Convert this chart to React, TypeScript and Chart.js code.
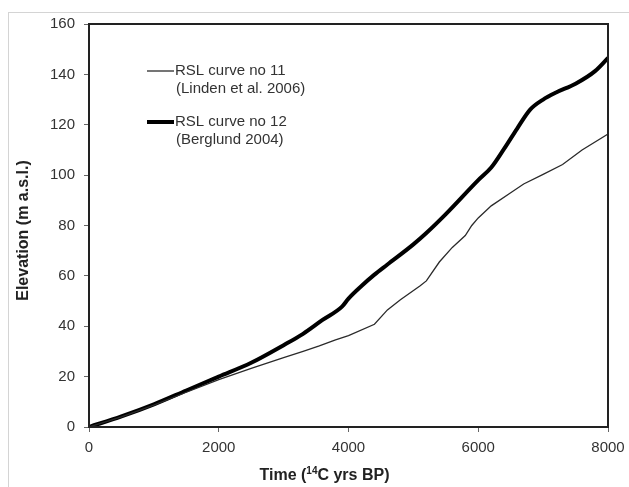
import React, { useEffect, useRef } from "react";
import { Chart, registerables } from "chart.js";

Chart.register(...registerables);

// RSL curve no 11 (Linden et al. 2006)
const lindenYears = [0, 500, 1000, 1500, 2000, 2500, 3000, 3300, 3550, 3800, 4000, 4400, 4600, 4800, 5100, 5200, 5400, 5600, 5800, 5900, 6000, 6200, 6500, 6700, 7000, 7300, 7600, 8000];
const lindenElev = [0, 4, 8.7, 13.8, 18.8, 23.3, 27.5, 30, 32.2, 34.6, 36.3, 40.8, 46.5, 50.5, 56, 58, 65.5, 71.3, 76, 80, 83, 87.8, 93, 96.5, 100.3, 104.2, 110, 116.3];

// RSL curve no 12 (Berglund 2004)
const berglundYears = [0, 500, 1000, 1500, 2000, 2500, 3000, 3300, 3600, 3900, 4000, 4200, 4400, 4600, 5000, 5200, 5500, 6000, 6200, 6400, 6600, 6800, 7000, 7200, 7500, 7800, 8000];
const berglundElev = [0, 4.2, 9, 14.5, 20, 25.5, 32.5, 37, 42.5, 47.8, 51, 56, 60.5, 64.5, 72.5, 77, 84.5, 98, 103, 110.5, 118.5, 126, 130, 132.8, 136.3, 141.3, 146.5];

const seriesNames = ["RSL curve no 11", "RSL curve no 12"];
const seriesRefs = ["(Linden et al. 2006)", "(Berglund 2004)"];

const xTicks = [0, 2000, 4000, 6000, 8000];
const yTicks = [0, 20, 40, 60, 80, 100, 120, 140, 160];

const yTitle = "Elevation (m a.s.l.)";

const FONT = "'Liberation Sans', Arial, sans-serif";

export default function App() {
  const ref = useRef<HTMLCanvasElement | null>(null);

  useEffect(() => {
    if (!ref.current) return;

    const framePlugin = {
      id: "frameAndLegend",
      afterDraw(chart: any) {
        const { ctx, chartArea } = chart;
        const { left, top, right, bottom } = chartArea;
        ctx.save();
        // frame
        ctx.strokeStyle = "#222";
        ctx.lineWidth = 2;
        ctx.strokeRect(left, top, right - left, bottom - top);

        // legend
        ctx.font = `15px ${FONT}`;
        ctx.fillStyle = "#333";
        ctx.textBaseline = "middle";
        ctx.textAlign = "left";
        const rows = [47, 98];
        chart.data.datasets.forEach((ds: any, i: number) => {
          const y = top + rows[i];
          ctx.beginPath();
          ctx.strokeStyle = ds.borderColor;
          ctx.lineWidth = ds.borderWidth;
          ctx.moveTo(left + 58, y);
          ctx.lineTo(left + 85, y);
          ctx.stroke();
          ctx.fillText(seriesNames[i], left + 86, y);
          ctx.fillText(seriesRefs[i], left + 87, y + 18);
        });

        // y axis title
        ctx.save();
        ctx.translate(15, (top + bottom) / 2 + 5);
        ctx.rotate(-Math.PI / 2);
        ctx.font = `bold 16px ${FONT}`;
        ctx.fillStyle = "#222";
        ctx.textAlign = "center";
        ctx.textBaseline = "middle";
        ctx.fillText(yTitle, 0, 0);
        ctx.restore();

        // x axis title with superscript
        const cx = (left + right) / 2 - 24;
        const ty = bottom + 47;
        const p1 = "Time (";
        const sup = "14";
        const p2 = "C yrs BP)";
        ctx.fillStyle = "#222";
        ctx.font = `bold 16px ${FONT}`;
        const w1 = ctx.measureText(p1).width;
        const w3 = ctx.measureText(p2).width;
        ctx.font = `bold 10px ${FONT}`;
        const w2 = ctx.measureText(sup).width;
        let x = cx - (w1 + w2 + w3) / 2;
        ctx.textBaseline = "alphabetic";
        ctx.textAlign = "left";
        ctx.font = `bold 16px ${FONT}`;
        ctx.fillText(p1, x, ty + 6);
        x += w1;
        ctx.font = `bold 10px ${FONT}`;
        ctx.fillText(sup, x, ty - 0);
        x += w2;
        ctx.font = `bold 16px ${FONT}`;
        ctx.fillText(p2, x, ty + 6);
        ctx.restore();
      },
    };

    const chart = new Chart(ref.current, {
      type: "line",
      data: {
        datasets: [
          {
            label: seriesNames[0],
            data: lindenYears.map((x, i) => ({ x, y: lindenElev[i] })),
            borderColor: "#2a2a2a",
            borderWidth: 1.3,
            pointRadius: 0,
            tension: 0,
            fill: false,
          },
          {
            label: seriesNames[1],
            data: berglundYears.map((x, i) => ({ x, y: berglundElev[i] })),
            borderColor: "#000",
            borderWidth: 4,
            pointRadius: 0,
            cubicInterpolationMode: "monotone",
            fill: false,
          },
        ],
      },
      options: {
        responsive: false,
        animation: false,
        events: [],
        layout: { padding: { top: 11, right: 21, left: 0, bottom: 0 } },
        plugins: {
          legend: { display: false },
          tooltip: { enabled: false },
        },
        scales: {
          x: {
            type: "linear",
            min: 0,
            max: 8000,
            afterBuildTicks: (s: any) => {
              s.ticks = xTicks.map((v) => ({ value: v }));
            },
            afterFit: (s: any) => {
              s.height = 60;
              s.paddingLeft = 0;
              s.paddingRight = 0;
            },
            ticks: {
              font: { family: FONT, size: 15 },
              color: "#333",
              padding: 7,
              maxRotation: 0,
              callback: (v: any) => String(v),
            },
            grid: {
              drawOnChartArea: false,
              drawTicks: true,
              tickLength: 5,
              color: "#666",
            },
            border: { display: false },
          },
          y: {
            min: 0,
            max: 160,
            afterBuildTicks: (s: any) => {
              s.ticks = yTicks.map((v) => ({ value: v }));
            },
            afterFit: (s: any) => {
              s.width = 80;
              s.paddingTop = 0;
              s.paddingBottom = 0;
            },
            ticks: {
              font: { family: FONT, size: 15 },
              color: "#333",
              padding: 9,
              callback: (v: any) => String(v),
            },
            grid: {
              drawOnChartArea: false,
              drawTicks: true,
              tickLength: 5,
              color: "#666",
            },
            border: { display: false },
          },
        },
      },
      plugins: [framePlugin],
    });

    return () => chart.destroy();
  }, []);

  return (
    <div style={{ position: "absolute", left: 0, top: 0, width: 629, height: 487, overflow: "hidden" }}>
      <div
        style={{
          position: "absolute",
          left: 8,
          top: 12,
          borderTop: "1px solid #d4d4d4",
          borderLeft: "1px solid #d4d4d4",
          width: 620,
          height: 474,
        }}
      >
        <canvas ref={ref} width={620} height={474} style={{ display: "block" }} />
      </div>
    </div>
  );
}
